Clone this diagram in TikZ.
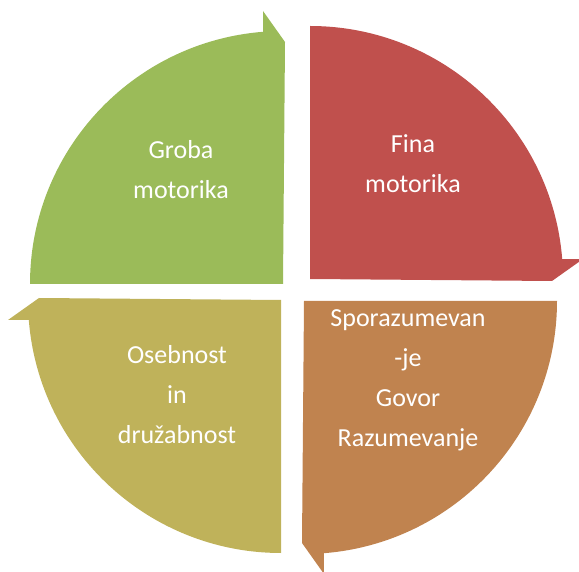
\documentclass[tikz,border=0pt]{standalone}
\usepackage{fontspec}
\setmainfont{Carlito}
\definecolor{gruen}{HTML}{9BBB59}
\definecolor{rdeca}{HTML}{C0504D}
\definecolor{rjava}{HTML}{C0834F}
\definecolor{oliva}{HTML}{BFB25A}
% one quarter of the cycle, corner at #1, turned by #2
\newcommand{\kvadrant}[3]{%
\fill[#3, shift={#1}, rotate=#2] (0,0) -- (-253,0)
  arc[start angle=180, end angle=94.5, radius=253] -- (-20,273) -- (2,242) -- cycle;}
\tikzset{napis/.style={text=white, align=center, font=\fontsize{26}{40}\selectfont}}
\begin{document}
\begin{tikzpicture}[x=1pt,y=1pt]
\useasboundingbox (0,0) rectangle (579,571);
\kvadrant{(283,287)}{0}{gruen}
\kvadrant{(310,292)}{-90}{rdeca}
\kvadrant{(304,270)}{180}{rjava}
\kvadrant{(281,271)}{90}{oliva}
\node[napis] (groba) at (181,401) {Groba\\motorika};
\node[napis] (fina) at (413,407) {Fina\\motorika};
\node[napis] (govor) at (408,191) {Sporazumevan\\-je\\Govor\\Razumevanje};
\node[napis] (osebnost) at (177,176) {Osebnost\\in\\družabnost};
\end{tikzpicture}
\end{document}
